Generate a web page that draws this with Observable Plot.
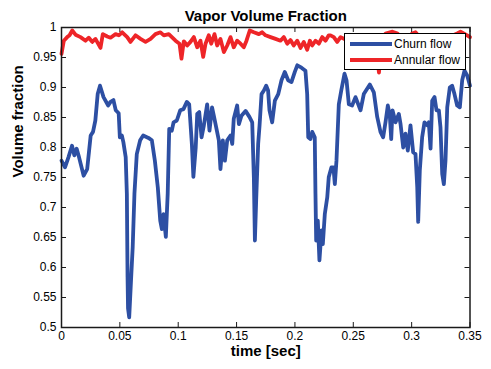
<!DOCTYPE html>
<html>
<head>
<meta charset="utf-8">
<script src="https://cdn.jsdelivr.net/npm/d3@7"></script>
<script src="https://cdn.jsdelivr.net/npm/@observablehq/plot@0.6"></script>
<style>
  html, body { margin: 0; padding: 0; background: #fff; }
  #wrap { position: relative; width: 491px; height: 369px; font-family: "Liberation Sans", Arial, sans-serif; }
  #legend { position: absolute; left: 344px; top: 33px; width: 122px; height: 37px; box-sizing: border-box;
            border: 1px solid #000; background: #fff; font-size: 12px; color: #000; }
  .row { position: absolute; left: 0; height: 14px; width: 120px; }
  .swatch { position: absolute; left: 5px; top: 5px; width: 42px; height: 4px; }
  .lbl { position: absolute; left: 49px; top: 0; line-height: 14px; white-space: nowrap; }
</style>
</head>
<body>
<div id="wrap"></div>
<script>
// ---- data ----
const titleText = "Vapor Volume Fraction";
const xLabel = "time [sec]";
const yLabel = "Volume fraction";
const seriesNames = ["Churn flow", "Annular flow"];
const seriesColors = ["#2d4fa3", "#ee2528"];

const xTicks = [0, 0.05, 0.1, 0.15, 0.2, 0.25, 0.3, 0.35];
const yTicks = [0.5, 0.55, 0.6, 0.65, 0.7, 0.75, 0.8, 0.85, 0.9, 0.95, 1];

const churnT = [0.000,0.003,0.006,0.009,0.011,0.013,0.015,0.019,0.022,0.025,0.027,0.029,0.031,0.033,0.036,0.040,0.042,0.0445,0.0465,0.049,0.050,0.0517,0.053,0.055,0.056,0.0566,0.0570,0.058,0.0597,0.061,0.0625,0.0645,0.0674,0.070,0.0745,0.0774,0.080,0.0825,0.0846,0.086,0.0874,0.0894,0.091,0.0923,0.0945,0.096,0.0988,0.1017,0.1045,0.1074,0.1094,0.1117,0.113,0.115,0.1163,0.118,0.120,0.122,0.1248,0.1268,0.129,0.1305,0.1325,0.1348,0.1362,0.1382,0.140,0.142,0.1448,0.1463,0.1476,0.1505,0.152,0.1542,0.1577,0.161,0.1634,0.1648,0.1657,0.1668,0.1685,0.1697,0.1714,0.1734,0.1754,0.1770,0.1782,0.1805,0.1828,0.1857,0.1885,0.1913,0.1942,0.197,0.1999,0.202,0.2056,0.209,0.2105,0.2114,0.2133,0.2148,0.217,0.2176,0.2182,0.2196,0.221,0.2228,0.2239,0.2256,0.2277,0.229,0.2313,0.2330,0.2342,0.2356,0.2376,0.2397,0.2425,0.2442,0.2462,0.249,0.2519,0.2562,0.259,0.2642,0.2676,0.2705,0.2733,0.2756,0.2776,0.2796,0.2813,0.2825,0.2836,0.2862,0.289,0.2905,0.2928,0.2947,0.2967,0.299,0.3013,0.3033,0.3048,0.3056,0.307,0.309,0.311,0.3133,0.3147,0.3162,0.3176,0.3196,0.3213,0.3233,0.3247,0.3262,0.3276,0.329,0.3305,0.3327,0.3347,0.3367,0.339,0.3413,0.3433,0.3453,0.3476,0.350];
const churnV = [0.778,0.767,0.784,0.803,0.787,0.798,0.784,0.753,0.764,0.820,0.826,0.845,0.889,0.903,0.884,0.870,0.876,0.879,0.862,0.857,0.817,0.820,0.809,0.784,0.723,0.584,0.532,0.517,0.584,0.634,0.723,0.789,0.812,0.820,0.816,0.812,0.778,0.734,0.678,0.664,0.689,0.651,0.723,0.831,0.828,0.842,0.845,0.862,0.864,0.876,0.872,0.806,0.751,0.800,0.856,0.859,0.817,0.837,0.872,0.828,0.867,0.853,0.834,0.812,0.764,0.812,0.778,0.812,0.820,0.806,0.848,0.870,0.839,0.853,0.861,0.851,0.842,0.751,0.645,0.712,0.806,0.837,0.889,0.895,0.903,0.895,0.862,0.842,0.878,0.889,0.912,0.926,0.912,0.909,0.926,0.937,0.933,0.928,0.889,0.817,0.814,0.826,0.817,0.723,0.645,0.678,0.612,0.662,0.639,0.689,0.717,0.751,0.767,0.767,0.739,0.778,0.872,0.895,0.923,0.912,0.872,0.870,0.884,0.862,0.889,0.905,0.892,0.851,0.826,0.817,0.842,0.870,0.853,0.814,0.862,0.842,0.856,0.839,0.800,0.823,0.795,0.837,0.792,0.789,0.734,0.676,0.762,0.817,0.842,0.837,0.842,0.798,0.878,0.884,0.862,0.862,0.834,0.756,0.739,0.778,0.867,0.900,0.903,0.889,0.870,0.867,0.912,0.928,0.920,0.903];

const annularT = [0.000,0.002,0.0049,0.0069,0.0092,0.012,0.0163,0.0206,0.0234,0.0263,0.0291,0.0334,0.0354,0.0392,0.042,0.0463,0.0491,0.052,0.0563,0.0591,0.0634,0.0677,0.072,0.0763,0.0805,0.0848,0.0877,0.0919,0.0977,0.1011,0.1028,0.1048,0.1077,0.1105,0.1134,0.1163,0.1191,0.1214,0.1234,0.1262,0.1283,0.1311,0.1334,0.1362,0.1391,0.142,0.1448,0.1476,0.1505,0.1534,0.1562,0.1585,0.1613,0.1648,0.1691,0.172,0.1748,0.1791,0.1834,0.1876,0.1905,0.1934,0.1962,0.199,0.202,0.2048,0.2076,0.2105,0.2128,0.2148,0.2176,0.2205,0.2234,0.2262,0.229,0.2305,0.2333,0.2362,0.2391,0.2433,0.249,0.256,0.263,0.269,0.272,0.2742,0.2776,0.2836,0.2879,0.292,0.297,0.3005,0.3033,0.3076,0.3145,0.3213,0.328,0.333,0.339,0.3419,0.3476,0.350];
const annularV = [0.956,0.978,0.984,0.987,0.995,0.988,0.984,0.978,0.983,0.976,0.981,0.966,0.989,0.985,0.983,0.989,0.987,0.992,0.984,0.976,0.987,0.981,0.976,0.981,0.989,0.992,0.987,0.989,0.978,0.973,0.948,0.977,0.970,0.976,0.984,0.967,0.978,0.951,0.973,0.987,0.973,0.989,0.970,0.981,0.959,0.970,0.984,0.967,0.978,0.973,0.967,0.978,0.995,0.992,0.989,0.992,0.987,0.984,0.981,0.978,0.984,0.973,0.979,0.970,0.978,0.966,0.976,0.963,0.978,0.970,0.978,0.973,0.984,0.978,0.987,0.987,0.984,0.976,0.984,0.980,0.976,0.982,0.978,0.975,0.925,0.975,0.990,0.993,0.990,0.982,0.985,0.990,0.992,0.982,0.978,0.984,0.980,0.985,0.990,0.993,0.987,0.984];

// ---- build ----
const churn = churnT.map((t, i) => ({t, v: churnV[i]}));
const annular = annularT.map((t, i) => ({t, v: annularV[i]}));
const fmt = d => String(+d.toFixed(2));

const W = 491, H = 369, mT = 27, mB = 42, mL = 61, mR = 21.5;
const innerH = H - mT - mB, innerW = W - mL - mR;
const tick = 5;
const axisColor = "#1a1a1a";

const chart = Plot.plot({
  width: W, height: H,
  marginTop: mT, marginBottom: mB, marginLeft: mL, marginRight: mR,
  style: {fontFamily: '"Liberation Sans", Arial, sans-serif', fontSize: "12px", color: "#000", background: "#fff"},
  x: {domain: [0, 0.35]},
  y: {domain: [0.5, 1]},
  marks: [
    Plot.line(annular, {x: "t", y: "v", stroke: seriesColors[1], strokeWidth: 3.8, strokeLinejoin: "round"}),
    Plot.line(churn, {x: "t", y: "v", stroke: seriesColors[0], strokeWidth: 3.8, strokeLinejoin: "round"}),
    // inward ticks on all four sides
    Plot.tickX(xTicks, {x: d => d, insetTop: innerH - tick, stroke: axisColor}),
    Plot.tickX(xTicks, {x: d => d, insetBottom: innerH - tick, stroke: axisColor}),
    Plot.tickY(yTicks, {y: d => d, insetRight: innerW - tick, stroke: axisColor}),
    Plot.tickY(yTicks, {y: d => d, insetLeft: innerW - tick, stroke: axisColor}),
    Plot.frame({stroke: axisColor, strokeWidth: 1.5}),
    Plot.axisX({ticks: xTicks, tickSize: 0, tickPadding: 4, tickFormat: fmt, label: null, fontSize: 12}),
    Plot.axisY({ticks: yTicks, tickSize: 0, tickPadding: 5, tickFormat: fmt, label: null, fontSize: 12}),
    Plot.text([titleText], {text: d => d, frameAnchor: "top", dy: -17, fontWeight: "bold", fontSize: 15}),
    Plot.text([xLabel], {text: d => d, frameAnchor: "bottom", dy: 28, fontWeight: "bold", fontSize: 15}),
    Plot.text([yLabel], {text: d => d, frameAnchor: "left", dx: -43, rotate: -90, fontWeight: "bold", fontSize: 15})
  ]
});

const wrap = document.getElementById("wrap");
wrap.appendChild(chart);

// legend
const legend = document.createElement("div");
legend.id = "legend";
seriesNames.forEach((name, i) => {
  const row = document.createElement("div");
  row.className = "row";
  row.style.top = (3 + i * 15.5) + "px";
  const sw = document.createElement("div");
  sw.className = "swatch";
  sw.style.background = seriesColors[i];
  const lb = document.createElement("div");
  lb.className = "lbl";
  lb.textContent = name;
  row.appendChild(sw);
  row.appendChild(lb);
  legend.appendChild(row);
});
wrap.appendChild(legend);
</script>
</body>
</html>
